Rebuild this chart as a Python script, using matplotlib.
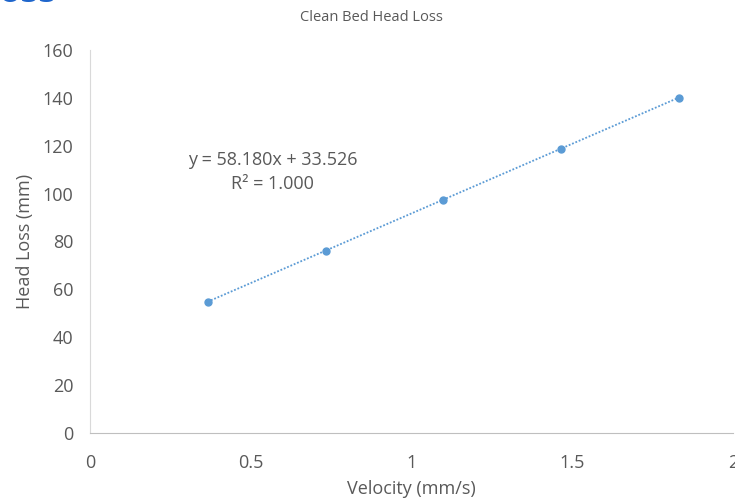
import numpy as np
import matplotlib.pyplot as plt

plt.rcParams['font.family'] = ['Open Sans', 'DejaVu Sans']

velocity = [0.366, 0.733, 1.099, 1.466, 1.832]
head_loss = [54.8, 76.2, 97.5, 118.8, 140.1]
equation = 'y = 58.180x + 33.526'
r_squared = 'R² = 1.000'

slope, intercept = np.polyfit(velocity, head_loss, 1)

text_color = '#595959'
blue = '#5B9BD5'

fig = plt.figure(figsize=(7.35, 5.04), dpi=100)
ax = fig.add_axes([0.1224, 0.1409, 0.8746, 0.7599])

ax.plot(velocity, head_loss, 'o', color=blue, markersize=5, zorder=3)
xs = np.array([velocity[0], velocity[-1]])
ax.plot(xs, slope * xs + intercept, linestyle=(0, (1, 1)), color=blue, linewidth=1.3)

ax.text(0.569, 109, equation + '\n' + r_squared,
        ha='center', va='center', fontsize=13, color=text_color, linespacing=1.45)

ax.set_xlim(0, 2)
ax.set_ylim(0, 160)
ax.set_xticks([0, 0.5, 1, 1.5, 2])
ax.set_xticklabels(['0', '0.5', '1', '1.5', '2'])
ax.set_yticks(range(0, 161, 20))
ax.tick_params(length=0, labelsize=13, colors=text_color)
ax.tick_params(axis='x', pad=15)
ax.tick_params(axis='y', pad=12)

for s in ['top', 'right']:
    ax.spines[s].set_visible(False)
ax.spines['left'].set_color('#D9D9D9')
ax.spines['bottom'].set_color('#BFBFBF')

ax.set_xlabel('Velocity (mm/s)', fontsize=13, color=text_color, labelpad=6)
ax.set_ylabel('Head Loss (mm)', fontsize=13, color=text_color, labelpad=6)
fig.text(0.505, 0.966, 'Clean Bed Head Loss', ha='center', va='center',
         fontsize=10.5, color=text_color)

# clipped heading from the slide above the chart
fig.text(-0.002, 0.996, 'oss', ha='left', va='baseline', fontsize=26,
         fontweight='bold', color='#1F66CC')

fig.savefig('out.png', dpi=100)
